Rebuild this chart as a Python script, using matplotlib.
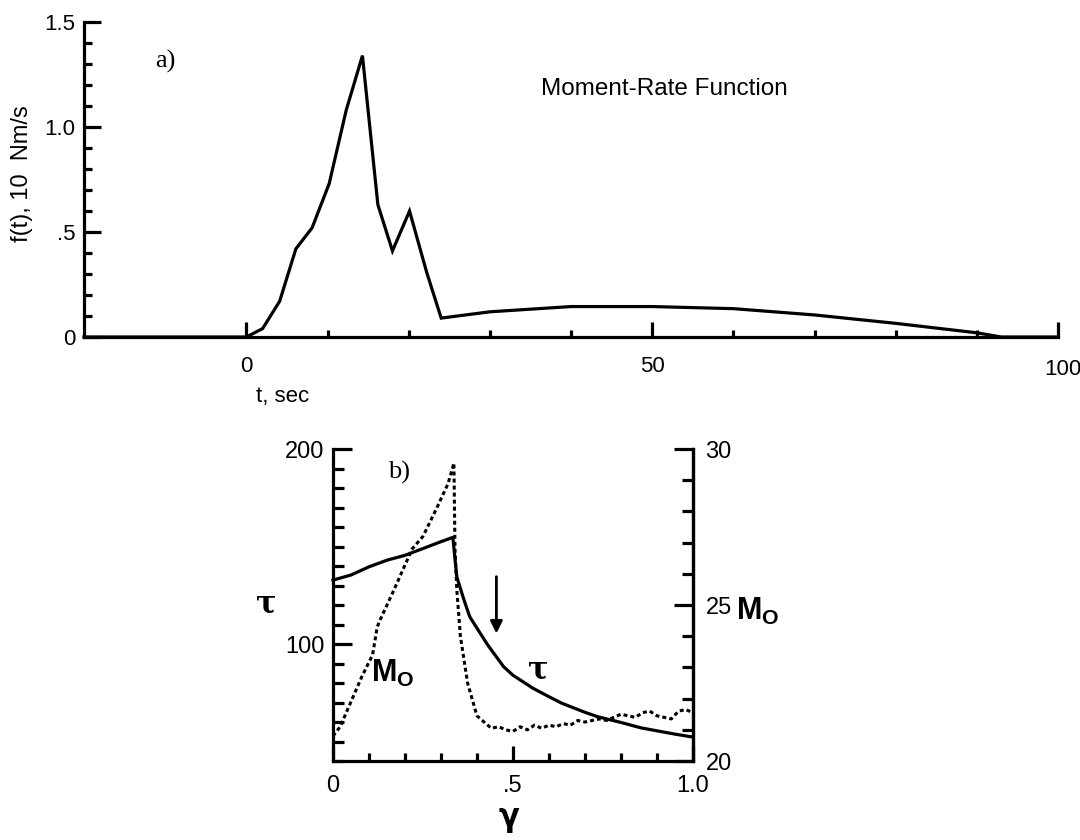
import matplotlib
matplotlib.use("Agg")
import matplotlib.pyplot as plt
from matplotlib.ticker import MultipleLocator, FixedLocator
from matplotlib.transforms import ScaledTranslation

plt.rcParams['font.family'] = ['Liberation Sans', 'DejaVu Sans']
plt.rcParams['mathtext.fontset'] = 'custom'
plt.rcParams['mathtext.bf'] = 'Liberation Sans:bold'
plt.rcParams['mathtext.rm'] = 'Liberation Sans'

# a) moment-rate function
t_sec = [-20, 0, 2, 4.1, 6.1, 8.1, 10.2, 12.3, 14.3, 16.2, 18.0, 20.1, 22.2, 24.0,
         30, 40, 50, 60, 70, 80, 90, 93, 100]
f_t = [0, 0, 0.04, 0.17, 0.42, 0.52, 0.73, 1.08, 1.34, 0.63, 0.41, 0.60, 0.31, 0.09,
       0.12, 0.145, 0.145, 0.135, 0.105, 0.065, 0.02, 0, 0]

# b) tau and Mo versus gamma
gamma_tau = [0, 0.05, 0.10, 0.15, 0.20, 0.25, 0.30, 0.333, 0.344, 0.364, 0.38, 0.404,
             0.43, 0.474, 0.50, 0.555, 0.60, 0.635, 0.70, 0.736, 0.80, 0.856, 0.90, 0.95, 1.0]
tau = [132.8, 135.4, 139.6, 143, 145.5, 149, 152.5, 154.7, 134.5, 122.6, 114, 107,
       99.5, 88.4, 84, 77.4, 73, 69.7, 65, 62.7, 59.8, 57, 55.5, 53.8, 52.3]

gamma_mo = [0, 0.02, 0.05, 0.08, 0.11, 0.123, 0.13, 0.17, 0.22, 0.25, 0.29, 0.32, 0.336,
            0.339, 0.344, 0.354, 0.374, 0.40, 0.42, 0.44, 0.46, 0.48, 0.50, 0.52, 0.54,
            0.56, 0.58, 0.60, 0.62, 0.64, 0.66, 0.68, 0.70, 0.72, 0.74, 0.76, 0.78, 0.80,
            0.82, 0.84, 0.86, 0.88, 0.90, 0.92, 0.94, 0.96, 0.98, 1.0]
mo = [20.8, 21.1, 21.9, 22.7, 23.4, 24.3, 24.5, 25.5, 26.8, 27.2, 28.15, 28.9, 29.55,
      26.8, 25.5, 24.0, 22.5, 21.45, 21.25, 21.05, 21.1, 21.0, 20.95, 21.1, 21.0,
      21.15, 21.05, 21.15, 21.1, 21.2, 21.15, 21.3, 21.25, 21.3, 21.35, 21.3, 21.4, 21.5,
      21.45, 21.4, 21.55, 21.6, 21.45, 21.4, 21.35, 21.6, 21.65, 21.55]

arrow_gamma = 0.454
arrow_tau = [136, 104]

lw = 2.3
fs = 16

fig = plt.figure(figsize=(10.8, 8.4), dpi=100)

# ---- panel a
ax = fig.add_axes([0.0778, 0.5988, 0.9019, 0.375])
ax.plot(t_sec, f_t, color='black', lw=lw, clip_on=False, solid_joinstyle='miter')
ax.set_xlim(-20, 100)
ax.set_ylim(0, 1.5)
for s in ['top', 'right']:
    ax.spines[s].set_visible(False)
for s in ['left', 'bottom']:
    ax.spines[s].set_linewidth(lw)
ax.xaxis.set_major_locator(FixedLocator([0, 50, 100]))
ax.xaxis.set_minor_locator(FixedLocator([10, 20, 30, 40, 60, 70, 80, 90]))
ax.yaxis.set_major_locator(FixedLocator([0, 0.5, 1.0, 1.5]))
ax.yaxis.set_minor_locator(MultipleLocator(0.1))
ax.set_xticklabels(['0', '50', '100'])
ax.set_yticklabels(['0', '.5', '1.0', '1.5'])
ax.tick_params(which='both', direction='in', width=lw, labelsize=fs)
ax.tick_params(axis='x', which='major', length=11, pad=14)
ax.tick_params(axis='x', which='minor', length=5)
ax.tick_params(axis='y', which='major', length=12, pad=6)
ax.tick_params(axis='y', which='minor', length=6)
# the 100 label sits a little right of its tick
lab100 = ax.get_xticklabels()[2]
lab100.set_transform(lab100.get_transform() + ScaledTranslation(0.05, -0.03, fig.dpi_scale_trans))
ax.set_ylabel('f(t), 10  Nm/s', fontsize=17)
ax.yaxis.set_label_coords(-0.052, 0.52)
ax.text(0.204, -0.19, 't, sec', transform=ax.transAxes, fontsize=16,
        ha='center', va='center')
ax.text(-10, 1.31, 'a)', fontsize=19, family='Liberation Serif', ha='center', va='center')
ax.text(51.5, 1.18, 'Moment-Rate Function', fontsize=17.5, ha='center', va='center')

# ---- panel b
axb = fig.add_axes([0.3083, 0.094, 0.3333, 0.3714])
axb.plot(gamma_tau, tau, color='black', lw=lw, clip_on=False)
axb.set_xlim(0, 1.0)
axb.set_ylim(40, 200)
axb.spines['top'].set_visible(False)
for s in ['left', 'bottom', 'right']:
    axb.spines[s].set_linewidth(lw)
axb.xaxis.set_major_locator(FixedLocator([0, 0.5, 1.0]))
axb.xaxis.set_minor_locator(MultipleLocator(0.1))
axb.yaxis.set_major_locator(FixedLocator([100, 200]))
axb.yaxis.set_minor_locator(MultipleLocator(10))
axb.set_xticklabels(['0', '.5', '1.0'])
axb.set_yticklabels(['100', '200'])
axb.tick_params(which='both', direction='in', width=lw, labelsize=17)
axb.tick_params(axis='x', which='major', length=11, pad=10)
axb.tick_params(axis='x', which='minor', length=6)
axb.tick_params(axis='y', which='major', length=14, pad=6)
axb.tick_params(axis='y', which='minor', length=8)
axb.annotate('', xy=(arrow_gamma, arrow_tau[1]), xytext=(arrow_gamma, arrow_tau[0]),
             arrowprops=dict(arrowstyle='-|>', color='black', lw=2,
                             mutation_scale=18))
axb.text(0.183, 188, 'b)', fontsize=19, family='Liberation Serif', ha='center', va='center')
axb.text(0.165, 85, r'$\mathbf{M}_{\mathbf{O}}$', fontsize=22, ha='center', va='center')
axb.text(0.57, 87, 'τ', fontsize=22, family='DejaVu Serif', fontweight='bold',
         ha='center', va='center')
axb.text(-0.185, 0.505, 'τ', transform=axb.transAxes, fontsize=22,
         family='DejaVu Serif', fontweight='bold', ha='center', va='center')
axb.text(0.49, -0.185, 'γ', transform=axb.transAxes, fontsize=22,
         family='DejaVu Sans', fontweight='bold', ha='center', va='center')

ax2 = axb.twinx()
ax2.plot(gamma_mo, mo, color='black', lw=2.2, linestyle=(0, (1.3, 1.0)), clip_on=False)
ax2.set_ylim(20, 30)
ax2.spines['top'].set_visible(False)
ax2.spines['right'].set_linewidth(lw)
ax2.yaxis.set_major_locator(FixedLocator([20, 25, 30]))
ax2.yaxis.set_minor_locator(MultipleLocator(1))
ax2.set_yticklabels(['20', '25', '30'])
ax2.tick_params(which='both', direction='in', width=lw, labelsize=17)
ax2.tick_params(axis='y', which='major', length=14, pad=9)
ax2.tick_params(axis='y', which='minor', length=8)
ax2.text(1.18, 0.478, r'$\mathbf{M}_{\mathbf{O}}$', transform=ax2.transAxes,
         fontsize=22, ha='center', va='center')

fig.savefig('out.png', dpi=100)
